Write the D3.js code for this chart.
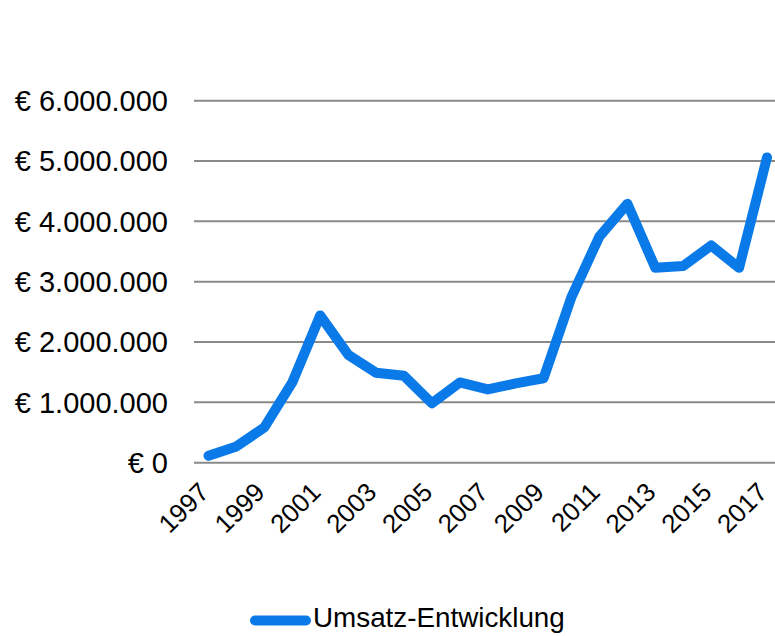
<!DOCTYPE html>
<html>
<head>
<meta charset="utf-8">
<script src="https://cdn.jsdelivr.net/npm/d3@7"></script>
<style>
  html, body { margin: 0; padding: 0; background: #fff; }
  svg { display: block; font-family: "Liberation Sans", Arial, sans-serif; }
</style>
</head>
<body>
<svg id="chart" width="775" height="636"></svg>
<script>
const years = ["1997","1998","1999","2000","2001","2002","2003","2004","2005","2006","2007","2008","2009","2010","2011","2012","2013","2014","2015","2016","2017"];
const umsatz = [115000, 270000, 585000, 1330000, 2440000, 1790000, 1490000, 1440000, 985000, 1330000, 1215000, 1315000, 1400000, 2750000, 3750000, 4290000, 3230000, 3260000, 3600000, 3230000, 5060000];
const yTicks = [0, 1000000, 2000000, 3000000, 4000000, 5000000, 6000000];
const yearLabels = ["1997","1999","2001","2003","2005","2007","2009","2011","2013","2015","2017"];
const seriesName = "Umsatz-Entwicklung";

const svg = d3.select("#chart");
const x = d3.scalePoint().domain(years).range([208.5, 767]);
const y = d3.scaleLinear().domain([0, 6000000]).range([462.7, 100.7]);

const fmt = v => "€ " + d3.format(",")(v).replace(/,/g, ".");

// gridlines
svg.append("g").selectAll("line").data(yTicks).join("line")
  .attr("x1", 194).attr("x2", 775)
  .attr("y1", d => y(d)).attr("y2", d => y(d))
  .attr("stroke", "#8a8a8a").attr("stroke-width", 2);

// y labels
svg.append("g").selectAll("text").data(yTicks).join("text")
  .attr("x", 168).attr("y", d => y(d))
  .attr("dy", "0.36em")
  .attr("text-anchor", "end")
  .attr("font-size", 29).attr("fill", "#000")
  .text(fmt);

// x labels
svg.append("g").selectAll("text").data(yearLabels).join("text")
  .attr("transform", d => `translate(${x(d) + 2},${y(0) + 31}) rotate(-45)`)
  .attr("text-anchor", "end")
  .attr("font-size", 26).attr("fill", "#000")
  .text(d => d);

// line
const line = d3.line().x((d, i) => x(years[i])).y(d => y(d));
svg.append("path").datum(umsatz)
  .attr("d", line)
  .attr("fill", "none")
  .attr("stroke", "#0a7ae8")
  .attr("stroke-width", 10)
  .attr("stroke-linejoin", "round")
  .attr("stroke-linecap", "round");

// legend
const lg = svg.append("g");
lg.append("line").attr("x1", 255).attr("x2", 306).attr("y1", 620.5).attr("y2", 620.5)
  .attr("stroke", "#0a7ae8").attr("stroke-width", 10).attr("stroke-linecap", "round");
lg.append("text").attr("x", 313).attr("y", 627).attr("font-size", 27.8).attr("fill", "#000").text(seriesName);
</script>
</body>
</html>
